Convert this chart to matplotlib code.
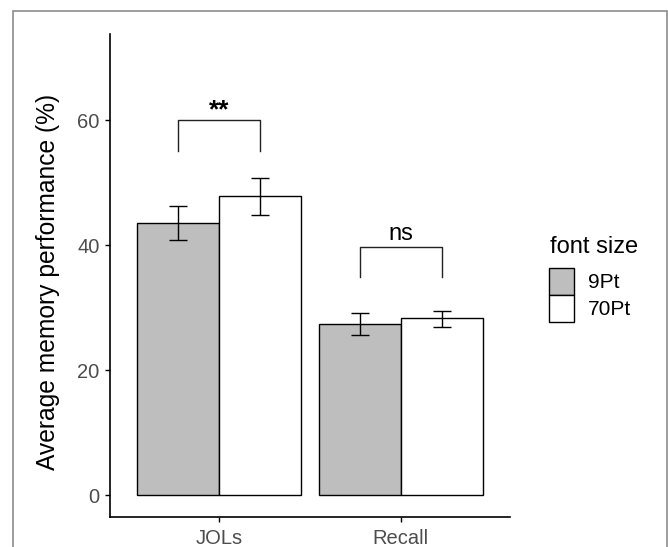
import matplotlib.pyplot as plt
from matplotlib.patches import Rectangle
import numpy as np

plt.rcParams['font.family'] = ['Liberation Sans', 'DejaVu Sans']

# data
tasks = ["JOLs", "Recall"]
sizes = ["9Pt", "70Pt"]
means_9pt = [43.5, 27.4]
means_70pt = [47.8, 28.3]
lo_9pt = [40.8, 25.6]
hi_9pt = [46.2, 29.1]
lo_70pt = [44.9, 26.9]
hi_70pt = [50.7, 29.4]
sig_labels = ["**", "ns"]
bracket_top = [60.0, 39.7]
bracket_end = [55.1, 34.9]

fill_colors = ["#bebebe", "#ffffff"]

W, H = 668, 547
fig = plt.figure(figsize=(W/100, H/100), dpi=100)
ax = fig.add_axes([110/W, 30/H, 400/W, 483/H])

x = np.arange(1, len(tasks) + 1)
w = 0.45
means = [means_9pt, means_70pt]
los = [lo_9pt, lo_70pt]
his = [hi_9pt, hi_70pt]
offs = [-w/2, w/2]
for i in range(2):
    m = np.array(means[i])
    ax.bar(x + offs[i], m, width=w, color=fill_colors[i], edgecolor="black",
           linewidth=1.0, zorder=2)
    yerr = [m - np.array(los[i]), np.array(his[i]) - m]
    ax.errorbar(x + offs[i], m, yerr=yerr, fmt="none", ecolor="black",
                elinewidth=1.0, capsize=6.5, capthick=1.0, zorder=3)

# significance brackets
for j in range(len(tasks)):
    x0, x1 = x[j] - w/2, x[j] + w/2
    ax.plot([x0, x0, x1, x1], [bracket_end[j], bracket_top[j], bracket_top[j], bracket_end[j]],
            color="#222222", lw=1.0, zorder=3)
    if sig_labels[j] == "**":
        ax.text(x[j], bracket_top[j] + 0.4, sig_labels[j], ha="center", va="baseline",
                fontsize=19, fontweight="bold", color="black")
    else:
        ax.text(x[j], bracket_top[j] + 1.1, sig_labels[j], ha="center", va="baseline",
                fontsize=17, color="black")

ax.set_xlim(0.4, 2.6)
ax.set_ylim(-3.5, 73.8)
ax.set_xticks(x)
ax.set_xticklabels(tasks)
ax.set_yticks([0, 20, 40, 60])
ax.tick_params(axis="both", labelsize=14.5, labelcolor="#4d4d4d", length=3.5,
               width=1.0, color="black")
ax.tick_params(axis="y", pad=4)
ax.tick_params(axis="x", pad=5.5)
ax.set_ylabel("Average memory performance (%)", fontsize=17.7)
ax.yaxis.set_label_coords(-0.124, 0.4876)

for s in ["top", "right"]:
    ax.spines[s].set_visible(False)
for s in ["left", "bottom"]:
    ax.spines[s].set_linewidth(1.2)

# legend (ggplot style: stacked keys, title above)
fig.text(550/W, 1 - 253/H, "font size", fontsize=17, ha="left", va="baseline")
key_top = 268
key_h = 27
for i in range(len(sizes)):
    y_top = key_top + i*key_h
    fig.add_artist(Rectangle((549/W, 1 - (y_top + key_h)/H), 25/W, key_h/H,
                             transform=fig.transFigure, facecolor=fill_colors[i],
                             edgecolor="black", linewidth=1.0))
    fig.text(588/W, 1 - (y_top + 20)/H, sizes[i], fontsize=15, ha="left",
             va="baseline")

# outer frame of the image
fig.patches.append(Rectangle((13/W, -0.05), 654/W, 1.05 - 11/H,
                             transform=fig.transFigure, fill=False,
                             edgecolor="#8c8c8c", linewidth=1.2))

fig.savefig("out.png", dpi=100)
